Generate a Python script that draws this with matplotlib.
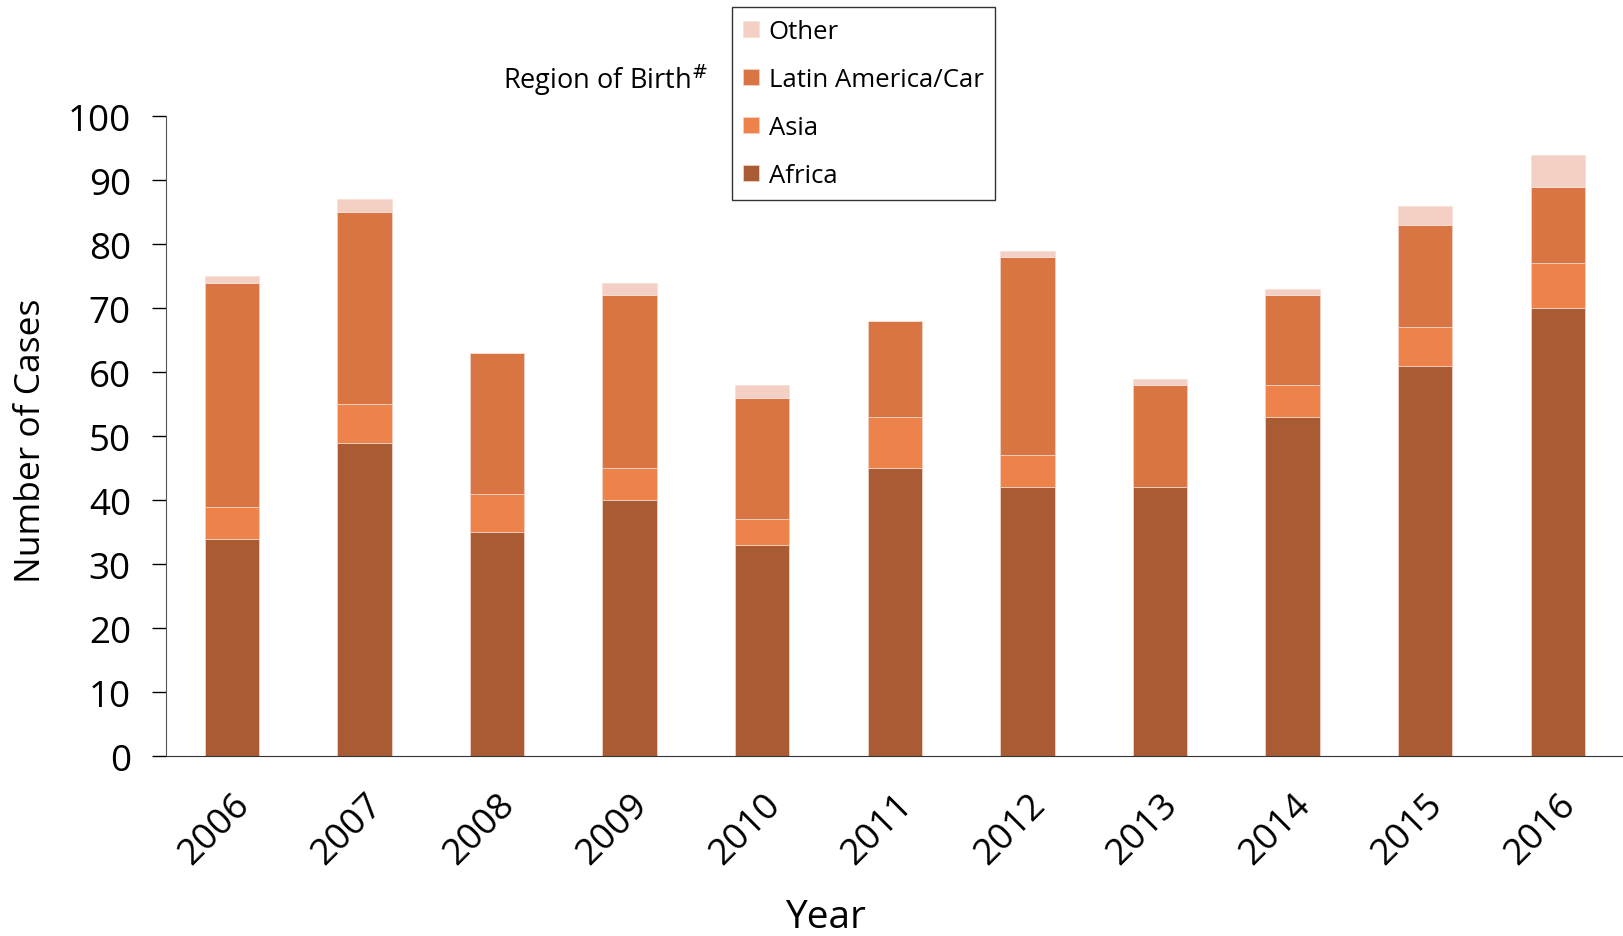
import numpy as np
import matplotlib.pyplot as plt

# 数据：按出生地区分的病例数
years = ["2006", "2007", "2008", "2009", "2010", "2011", "2012", "2013", "2014", "2015", "2016"]
africa = [34, 49, 35, 40, 33, 45, 42, 42, 53, 61, 70]
asia = [5, 6, 6, 5, 4, 8, 5, 0, 5, 6, 7]
latin = [35, 30, 22, 27, 19, 15, 31, 16, 14, 16, 12]
other = [1, 2, 0, 2, 2, 0, 1, 1, 1, 3, 5]

plt.rcParams['font.family'] = ['Open Sans', 'DejaVu Sans']

fig = plt.figure(figsize=(16.24, 9.37), dpi=100)
ax = fig.add_axes([0.102, 0.192, 0.898, 0.683])

x = np.arange(len(years))
w = 0.41
b1 = np.array(africa)
b2 = b1 + np.array(asia)
b3 = b2 + np.array(latin)

ax.bar(x, africa, w, color="#A95B34", edgecolor="#F2D0C4", linewidth=0.6, label="Africa")
ax.bar(x, asia, w, bottom=b1, color="#ED834B", edgecolor="#F2D0C4", linewidth=0.6, label="Asia")
ax.bar(x, latin, w, bottom=b2, color="#D97543", edgecolor="#F2D0C4", linewidth=0.6, label="Latin America/Car")
ax.bar(x, other, w, bottom=b3, color="#F4CFC4", edgecolor="#F8E0D8", linewidth=0.6, label="Other")

ax.set_xlim(-0.5, len(years) - 0.5)
ax.set_ylim(0, 100)
ax.set_yticks(range(0, 101, 10))
ax.tick_params(axis='y', labelsize=26.5, length=10, width=1, direction='out', pad=15)
ax.set_xticks(x)
ax.set_xticklabels(years, rotation=45, ha='right', rotation_mode='anchor', fontsize=26.5)
ax.tick_params(axis='x', length=0, pad=22)

ax.spines['top'].set_visible(False)
ax.spines['right'].set_visible(False)
ax.spines['left'].set_color('#555555')
ax.spines['bottom'].set_color('#333333')

fig.text(0.019, 0.53, "Number of Cases", rotation=90, ha='center', va='center', fontsize=25.5)
fig.text(0.508, 0.0, "Year", ha='center', va='bottom', fontsize=28)
fig.text(0.31, 0.914, "Region of Birth$^{\\#}$", ha='left', va='center', fontsize=19.5)

handles, labels = ax.get_legend_handles_labels()
leg = fig.legend(handles[::-1], labels[::-1], loc='upper left', bbox_to_anchor=(0.4505, 0.991),
                 borderaxespad=0, fontsize=18.5, frameon=True, fancybox=False, edgecolor='black',
                 handlelength=0.6, handleheight=0.6, handletextpad=0.4,
                 labelspacing=0.9, borderpad=0.45)
leg.get_frame().set_linewidth(1.0)

plt.savefig("out.png", dpi=100)
